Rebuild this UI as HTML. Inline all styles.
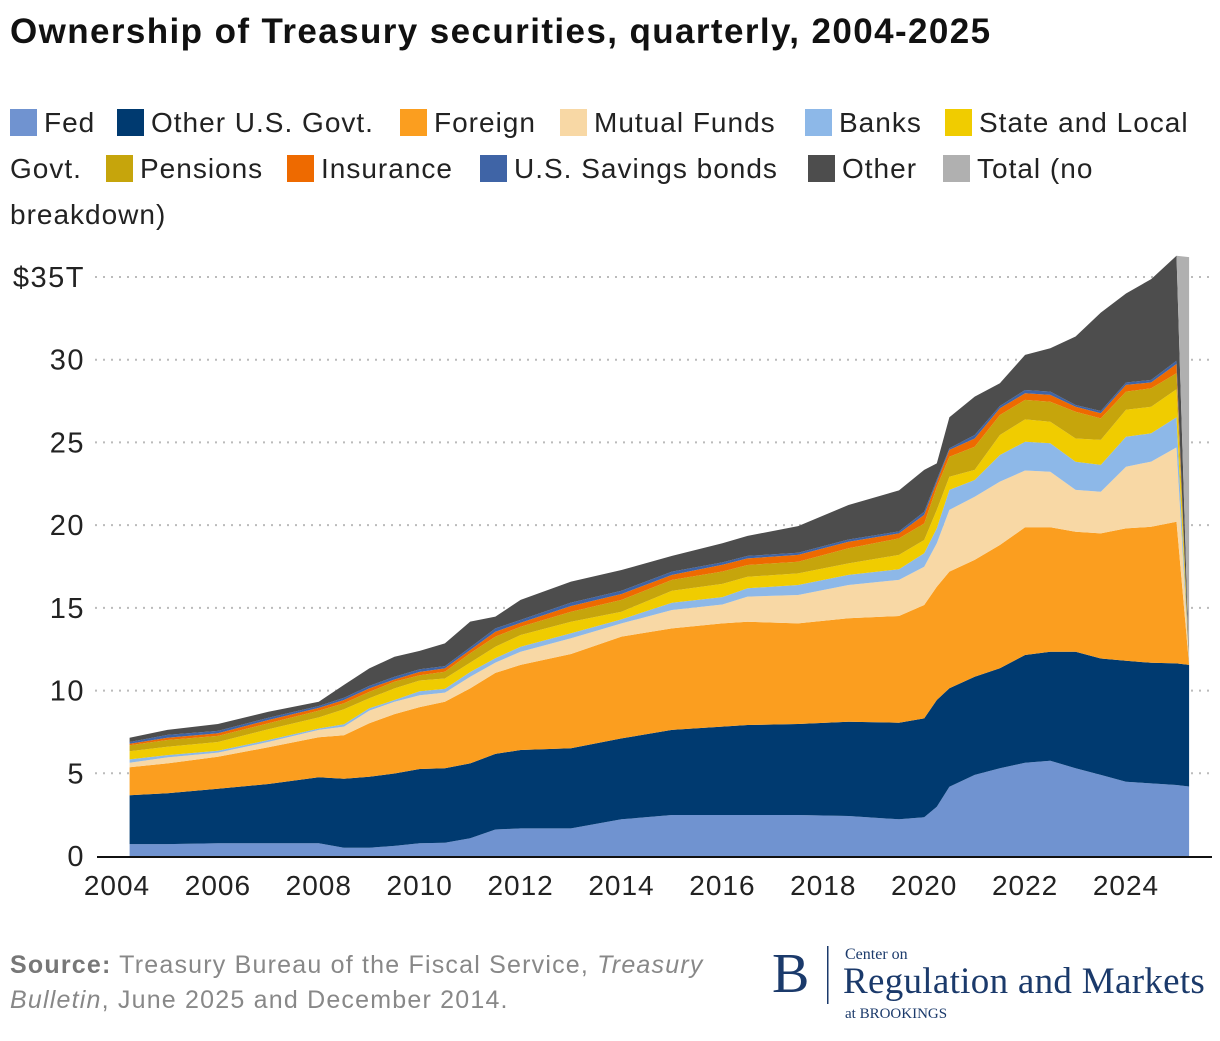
<!DOCTYPE html>
<html><head><meta charset="utf-8">
<style>
body{margin:0;background:#fff;}
svg text{font-family:"Liberation Sans",sans-serif;}
svg text.serif{font-family:"Liberation Serif",serif;}
</style></head>
<body>
<svg id="chart" width="1220" height="1036" viewBox="0 0 1220 1036" xmlns="http://www.w3.org/2000/svg">
<text x="10" y="43" font-size="35" font-weight="bold" fill="#111" letter-spacing="1.4">Ownership of Treasury securities, quarterly, 2004-2025</text>
<g id="legend" font-size="28" fill="#222" letter-spacing="1"></g>
<g id="grid"></g>
<g id="areas"></g>
<g id="yaxis" font-size="29" fill="#222" letter-spacing="1.5"></g>
<g id="xaxis" font-size="28" fill="#222" letter-spacing="1"></g>
<text x="10" y="973" font-size="25" fill="#888" letter-spacing="1.2"><tspan font-weight="bold" fill="#777">Source:</tspan> Treasury Bureau of the Fiscal Service, <tspan font-style="italic">Treasury</tspan></text>
<text x="10" y="1008" font-size="25" fill="#888" letter-spacing="1.2"><tspan font-style="italic">Bulletin</tspan>, June 2025 and December 2014.</text>
<g fill="#1b3a6b">
<text class="serif" x="772" y="992" font-size="56">B</text>
<rect x="827" y="946" width="1.5" height="58" fill="#1b3a6b"/>
<text class="serif" x="845" y="959" font-size="16">Center on</text>
<text class="serif" x="843" y="993" font-size="37" letter-spacing="0.3">Regulation and Markets</text>
<text class="serif" x="845" y="1018" font-size="15">at BROOKINGS</text>
</g>
</svg>
<script>
const times = [2004.25,2005,2006,2007,2008,2008.5,2009,2009.5,2010,2010.5,2011,2011.5,2012,2013,2014,2015,2016,2016.5,2017.5,2018.5,2019.5,2020,2020.25,2020.5,2021,2021.5,2022,2022.5,2023,2023.5,2024,2024.5,2025,2025.25];
const fed = [.72,.72,.77,.77,.77,.50,.50,.61,.77,.80,1.07,1.60,1.67,1.67,2.22,2.48,2.48,2.48,2.48,2.42,2.22,2.34,2.98,4.19,4.90,5.30,5.64,5.76,5.30,4.90,4.49,4.39,4.29,4.20];
const otherGovt = [2.95,3.07,3.30,3.58,3.99,4.17,4.29,4.38,4.49,4.50,4.53,4.57,4.74,4.84,4.89,5.14,5.34,5.44,5.50,5.69,5.84,5.98,6.45,5.95,5.94,6.05,6.51,6.59,7.05,7.04,7.31,7.29,7.35,7.35];
const foreign = [1.69,1.81,1.93,2.22,2.42,2.63,3.23,3.59,3.74,4.03,4.53,4.90,5.14,5.70,6.15,6.14,6.24,6.24,6.08,6.26,6.45,6.85,6.85,7.05,7.06,7.45,7.72,7.52,7.25,7.56,8.00,8.22,8.56,0];
const mutualFunds = [.28,.36,.25,.33,.44,.52,.77,.75,.72,.55,.71,.62,.80,.95,.80,1.11,1.14,1.52,1.72,2.01,2.18,2.32,2.62,3.73,3.82,3.83,3.43,3.36,2.53,2.52,3.73,3.94,4.50,0];
const banks = [.20,.14,.11,.11,.09,.14,.14,.10,.24,.22,.28,.26,.30,.30,.24,.44,.45,.50,.60,.61,.64,.81,.90,1.21,1.01,1.61,1.74,1.72,1.70,1.62,1.81,1.71,1.82,0];
const stateLocal = [.49,.50,.53,.65,.67,.91,.60,.70,.65,.63,.57,.70,.71,.70,.47,.73,.80,.70,.70,.70,.87,.80,1.12,.80,.61,1.21,1.35,1.30,1.41,1.51,1.63,1.61,1.69,0];
const pensions = [.36,.41,.37,.36,.41,.36,.39,.41,.32,.41,.56,.61,.50,.61,.71,.65,.75,.71,.71,.91,1.00,1.00,1.38,1.21,1.40,1.21,1.18,1.21,1.62,1.30,1.10,1.11,.97,0];
const insurance = [.10,.14,.16,.20,.16,.20,.21,.13,.20,.20,.20,.30,.24,.34,.36,.30,.40,.40,.41,.40,.30,.52,.30,.41,.50,.40,.40,.41,.30,.31,.41,.36,.56,0];
const savingsBonds = [.10,.17,.14,.14,.12,.14,.15,.17,.16,.14,.16,.20,.17,.21,.20,.20,.15,.15,.13,.13,.12,.19,.15,.10,.21,.14,.20,.20,.10,.14,.14,.15,.20,0];
const otherHolders = [.26,.30,.42,.36,.26,.77,1.06,1.20,1.11,1.37,1.56,.71,1.21,1.27,1.25,.95,1.15,1.21,1.61,2.09,2.48,2.53,.98,1.87,2.32,1.38,2.12,2.62,4.14,5.95,5.38,6.09,6.34,0];
const totalNoBreakdown = [0,0,0,0,0,0,0,0,0,0,0,0,0,0,0,0,0,0,0,0,0,0,0,0,0,0,0,0,0,0,0,0,0,24.65];
const seriesNames = ["Fed","Other U.S. Govt.","Foreign","Mutual Funds","Banks","State and Local Govt.","Pensions","Insurance","U.S. Savings bonds","Other","Total (no breakdown)"];
const yTicks = [0,5,10,15,20,25,30,35];
const yTickLabels = ["0","5","10","15","20","25","30","$35T"];
const xTicks = [2004,2006,2008,2010,2012,2014,2016,2018,2020,2022,2024];

const series = [fed,otherGovt,foreign,mutualFunds,banks,stateLocal,pensions,insurance,savingsBonds,otherHolders,totalNoBreakdown];
const colors = ["#7093d0","#003a70","#fb9e1f","#f8d8a5","#8db8e8","#f0cc00","#c6a50c","#ee6a00","#3f64a6","#4d4d4d","#b0b0b0"];
const keys = ["fed","other-us-govt","foreign","mutual-funds","banks","state-local","pensions","insurance","savings-bonds","other","total-no-breakdown"];
const NS="http://www.w3.org/2000/svg";
const xS = t => 117 + (t-2004)*50.45;
const yS = v => 856 - v*16.543;
function mk(tag, attrs, parent){const e=document.createElementNS(NS,tag);for(const k in attrs)e.setAttribute(k,attrs[k]);parent.appendChild(e);return e;}

const grid=document.getElementById('grid'), yax=document.getElementById('yaxis'), xax=document.getElementById('xaxis');
yTicks.forEach((v,i)=>{
  if(v>0){const l=mk('line',{x1:95,x2:1212,y1:yS(v),y2:yS(v),stroke:'#bbb','stroke-width':2,'stroke-dasharray':'2 6'},grid);
  
  }
  const t=mk('text',{x:85,y:yS(v)+10,'text-anchor':'end'},yax);
  t.textContent=yTickLabels[i];
  
  
});
xTicks.forEach(y=>{
  const t=mk('text',{x:xS(y),y:895,'text-anchor':'middle'},xax);
  t.textContent=String(y);
  
  
});

const areas=document.getElementById('areas');
const base=times.map(()=>0);
series.forEach((s,si)=>{
  const top=base.map((b,i)=>b+s[i]);
  let d='M'+times.map((t,i)=>xS(t).toFixed(1)+','+yS(top[i]).toFixed(1)).join('L');
  for(let i=times.length-1;i>=0;i--) d+='L'+xS(times[i]).toFixed(1)+','+yS(base[i]).toFixed(1);
  d+='Z';
  const p=mk('path',{d:d,fill:colors[si]},areas);
  
  
  top.forEach((v,i)=>base[i]=v);
});
const ax=mk('line',{x1:97,x2:1212,y1:857,y2:857,stroke:'#111','stroke-width':2},xax);



const legend=document.getElementById('legend');
const legPos=[[10,122],[117,122],[400,122],[560,122],[805,122],[945,122],[106,168],[287,168],[480,168],[808,168],[943,168]];
const legText=["Fed","Other U.S. Govt.","Foreign","Mutual Funds","Banks","State and Local","Pensions","Insurance","U.S. Savings bonds","Other","Total (no"];
legPos.forEach((p,i)=>{
  const g=mk('g',{},legend);
  
  
  mk('rect',{x:p[0],y:p[1]-13,width:27,height:27,fill:colors[i]},g);
  const t=mk('text',{x:p[0]+34,y:p[1]+10},g);
  t.textContent=legText[i];
});
const w1=mk('text',{x:10,y:178},legend); w1.textContent="Govt.";


const w2=mk('text',{x:10,y:224},legend); w2.textContent="breakdown)";


</script>
</body></html>
